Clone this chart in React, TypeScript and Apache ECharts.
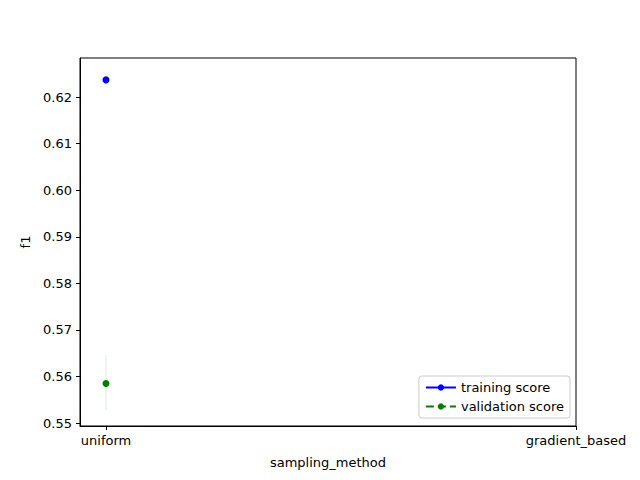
import React, { useEffect, useRef } from "react";
import * as echarts from "echarts";

const categories = ["uniform", "gradient_based"];
const trainScore = [0.6237];
const validScore = [0.5585];
const validBand = [0.5528, 0.5646];
const trainBand = [0.6234, 0.624];
const yTicks = [0.55, 0.56, 0.57, 0.58, 0.59, 0.6, 0.61, 0.62];

const font = "DejaVu Sans";

export default function App() {
  const ref = useRef<HTMLDivElement>(null);

  useEffect(() => {
    if (!ref.current) return;
    const chart = echarts.init(ref.current, null, { renderer: "svg" });
    chart.setOption({
      animation: false,
      textStyle: { fontFamily: font },
      grid: { left: 80, right: 64, top: 58, bottom: 54, show: true, borderColor: "#000", borderWidth: 1 },
      legend: {
        orient: "vertical",
        right: 70,
        bottom: 62,
        borderColor: "#ccc",
        borderWidth: 1,
        borderRadius: 3,
        backgroundColor: "#fff",
        padding: [5, 6],
        itemGap: 6,
        itemWidth: 30,
        itemHeight: 8,
        textStyle: { fontSize: 13, color: "#000", fontFamily: font },
        data: ["training score", "validation score"],
      },
      xAxis: {
        type: "value",
        min: -0.0553,
        max: 1,
        name: "sampling_method",
        nameLocation: "middle",
        nameGap: 30,
        nameTextStyle: { fontSize: 13, color: "#000" },
        axisLine: { onZero: false, lineStyle: { color: "#000" } },
        axisTick: { customValues: [0, 1], length: 4, lineStyle: { color: "#000" } },
        axisLabel: {
          customValues: [0, 1],
          fontSize: 13,
          color: "#000",
          formatter: (v: number) => categories[Math.round(v)] ?? "",
        },
        splitLine: { show: false },
      },
      yAxis: {
        type: "value",
        min: 0.54936,
        max: 0.6284,
        name: "f1",
        nameLocation: "middle",
        nameGap: 48,
        nameTextStyle: { fontSize: 13, color: "#000" },
        axisLine: { show: true, onZero: false, lineStyle: { color: "#000" } },
        axisTick: { show: true, customValues: yTicks, length: 4, lineStyle: { color: "#000" } },
        axisLabel: {
          customValues: yTicks,
          fontSize: 13,
          color: "#000",
          formatter: (v: number) => v.toFixed(2),
        },
        splitLine: { show: false },
      },
      series: [
        {
          name: "training score",
          type: "line",
          data: trainScore.map((v, i) => [i, v]),
          symbol: "circle",
          symbolSize: 7,
          itemStyle: { color: "#0000ff" },
          lineStyle: { color: "#0000ff", width: 1.5 },
          z: 3,
        },
        {
          name: "validation score",
          type: "line",
          data: validScore.map((v, i) => [i, v]),
          symbol: "circle",
          symbolSize: 7,
          itemStyle: { color: "#008000" },
          lineStyle: { color: "#008000", width: 1.5, type: "dashed" },
          z: 3,
        },
        {
          type: "line",
          data: validBand.map((v) => [0, v]),
          symbol: "none",
          lineStyle: { color: "#008000", opacity: 0.15, width: 1 },
          silent: true,
        },
        {
          type: "line",
          data: trainBand.map((v) => [0, v]),
          symbol: "none",
          lineStyle: { color: "#0000ff", opacity: 0.15, width: 1 },
          silent: true,
        },
      ],
    });
    return () => chart.dispose();
  }, []);

  return <div ref={ref} style={{ width: 640, height: 480, margin: -8 }} />;
}
